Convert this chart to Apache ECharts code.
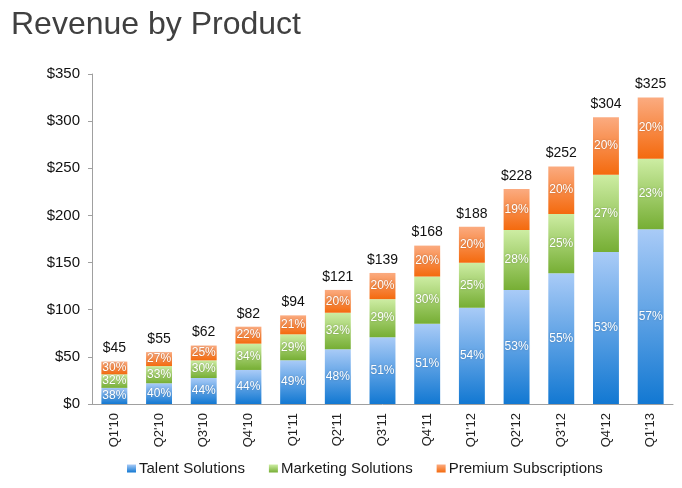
<!DOCTYPE html>
<html>
<head>
<meta charset="utf-8">
<script src="https://cdn.jsdelivr.net/npm/echarts@6/dist/echarts.min.js"></script>
<style>
    html, body { margin: 0; padding: 0; background: #fff; }
    #main { width: 682px; height: 488px; }
</style>
</head>
<body>
<div id="main"></div>
<script>
// 数据
var quarters = ["Q1'10", "Q2'10", "Q3'10", "Q4'10", "Q1'11", "Q2'11", "Q3'11", "Q4'11", "Q1'12", "Q2'12", "Q3'12", "Q4'12", "Q1'13"];
var totals = [45, 55, 62, 82, 94, 121, 139, 168, 188, 228, 252, 304, 325];
var talent = [17.1, 22.0, 27.6, 36.1, 46.4, 58.1, 70.9, 85.2, 102.2, 120.8, 138.6, 161.1, 185.3];
var marketing = [14.4, 18.2, 18.7, 27.9, 27.5, 38.7, 40.3, 50.0, 47.5, 63.8, 63.0, 82.1, 74.8];
var premium = [13.5, 14.8, 15.7, 18.0, 20.1, 24.2, 27.8, 32.8, 38.3, 43.4, 50.4, 60.8, 64.9];
var talentPct = ['38%', '40%', '44%', '44%', '49%', '48%', '51%', '51%', '54%', '53%', '55%', '53%', '57%'];
var marketingPct = ['32%', '33%', '30%', '34%', '29%', '32%', '29%', '30%', '25%', '28%', '25%', '27%', '23%'];
var premiumPct = ['30%', '27%', '25%', '22%', '21%', '20%', '20%', '20%', '20%', '19%', '20%', '20%', '20%'];
var yTicks = [0, 50, 100, 150, 200, 250, 300, 350];

(function() {
    var myChart = echarts.init(document.getElementById('main'));

    // 每段柱子的纵向渐变
    function grad(top, bottom) {
        return {
            type: 'linear', x: 0, y: 0, x2: 0, y2: 1,
            colorStops: [{ offset: 0, color: top }, { offset: 1, color: bottom }]
        };
    }
    function inner(pcts) {
        return {
            show: true,
            position: 'inside',
            color: '#fff',
            fontSize: 12,
            fontFamily: 'Liberation Sans',
            textShadowColor: 'rgba(0,0,0,0.25)',
            textShadowBlur: 2,
            formatter: function(p) { return pcts[p.dataIndex]; }
        };
    }

    var option = {
        animation: false,
        title: {
            text: 'Revenue by Product',
            left: 6,
            top: 4,
            textStyle: {
                fontFamily: 'Liberation Sans',
                fontSize: 32,
                fontWeight: 'normal',
                color: '#404040'
            }
        },
        legend: {
            data: ['Talent Solutions', 'Marketing Solutions', 'Premium Subscriptions'],
            top: 456,
            left: 122,
            icon: 'rect',
            itemWidth: 9,
            itemHeight: 8,
            itemGap: 24,
            textStyle: { fontFamily: 'Liberation Sans', fontSize: 15, color: '#1a1a1a', padding: [0, 0, 0, -2] }
        },
        grid: {
            left: 92,
            right: 9,
            top: 74,
            bottom: 84
        },
        xAxis: {
            type: 'category',
            data: quarters,
            axisLine: { lineStyle: { color: '#a0a0a0' } },
            axisTick: { lineStyle: { color: '#a0a0a0' }, length: 5 },
            axisLabel: {
                rotate: 90,
                color: '#222',
                fontFamily: 'Liberation Sans',
                fontSize: 13,
                margin: 9
            }
        },
        yAxis: {
            type: 'value',
            min: yTicks[0],
            max: yTicks[yTicks.length - 1],
            interval: 50,
            splitLine: { show: false },
            axisLine: { show: true, lineStyle: { color: '#a0a0a0' } },
            axisTick: { show: true, length: 4, lineStyle: { color: '#a0a0a0' } },
            axisLabel: {
                color: '#111',
                fontFamily: 'Liberation Sans',
                fontSize: 15,
                margin: 12,
                formatter: '${value}'
            }
        },
        series: [{
                name: 'Talent Solutions',
                type: 'bar',
                stack: 'rev',
                barWidth: '58%',
                data: talent,
                itemStyle: { color: grad('#a9cbf7', '#1278d2') },
                label: inner(talentPct)
            },
            {
                name: 'Marketing Solutions',
                type: 'bar',
                stack: 'rev',
                data: marketing,
                itemStyle: { color: grad('#cdeda3', '#76ae34') },
                label: inner(marketingPct)
            },
            {
                name: 'Premium Subscriptions',
                type: 'bar',
                stack: 'rev',
                data: premium,
                itemStyle: { color: grad('#fbab80', '#f46a0e') },
                label: inner(premiumPct)
            },
            {
                // 总额标签
                name: 'total',
                type: 'bar',
                stack: 'rev',
                data: totals.map(function() { return 0; }),
                itemStyle: { color: 'transparent' },
                label: {
                    show: true,
                    position: 'top',
                    distance: 6,
                    color: '#111',
                    fontFamily: 'Liberation Sans',
                    fontSize: 14,
                    formatter: function(p) { return '$' + totals[p.dataIndex]; }
                }
            }
        ]
    };
    myChart.setOption(option);
    window.addEventListener("resize", function() {
        myChart.resize();
    });
})();
</script>
</body>
</html>
